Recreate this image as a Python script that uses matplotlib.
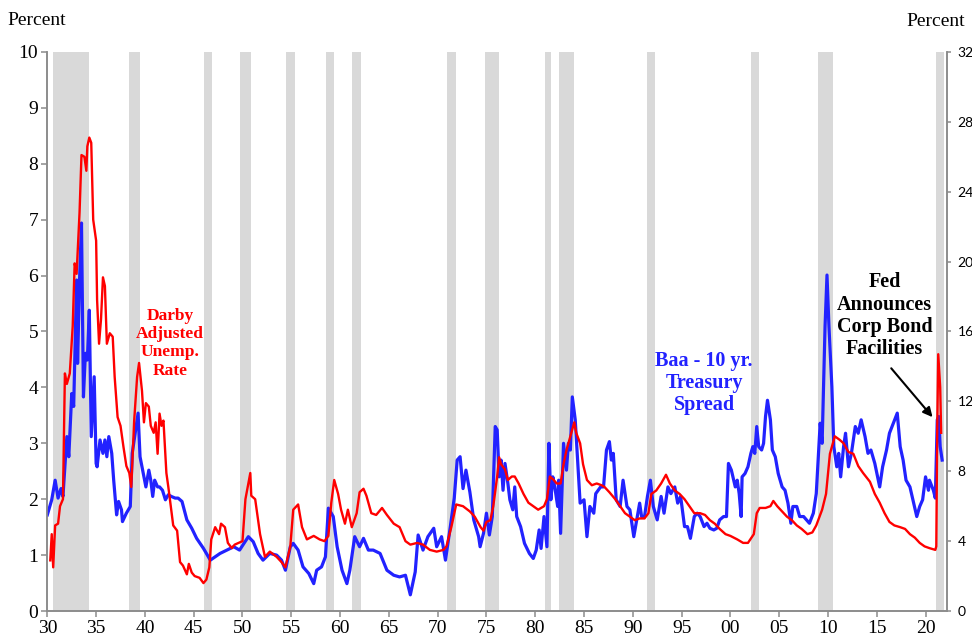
import matplotlib
matplotlib.use("Agg")
import matplotlib.pyplot as plt

# recession bands, in the chart's own year scale
recession_start = [1930.55, 1938.34, 1946.06, 1949.78, 1954.47, 1958.60, 1961.23, 1970.97,
                   1974.87, 1981.03, 1982.48, 1991.50, 2002.16, 2008.93, 2021.12]
recession_end = [1934.24, 1939.50, 1946.88, 1950.85, 1955.39, 1959.36, 1962.16, 1971.89,
                 1976.27, 1981.65, 1983.99, 1992.26, 2002.95, 2010.54, 2021.84]

# Baa - 10 yr Treasury spread (left axis, percent)
spread_years = [
    1930.0, 1930.45, 1930.8, 1931.1, 1931.4, 1931.6, 1932.0, 1932.2, 1932.5, 1932.7,
    1933.0, 1933.1, 1933.3, 1933.5, 1933.7, 1933.9, 1934.1, 1934.3, 1934.5, 1934.8,
    1935.0, 1935.1, 1935.4, 1935.7, 1935.9, 1936.1, 1936.3, 1936.6, 1936.8, 1937.1,
    1937.3, 1937.6, 1937.7, 1938.1, 1938.5, 1938.7, 1939.0, 1939.3, 1939.5, 1939.7,
    1939.9, 1940.1, 1940.4, 1940.6, 1940.8, 1941.0, 1941.3, 1941.5, 1941.8, 1942.1,
    1942.4, 1942.7, 1943.1, 1943.4, 1943.8, 1944.3, 1944.8, 1945.3, 1946.0,
    1946.7, 1947.7, 1949.1, 1949.7, 1950.6, 1951.1, 1951.6, 1952.1, 1952.8, 1953.5,
    1954.0, 1954.4, 1954.9, 1955.2, 1955.7, 1956.2, 1956.8, 1957.3, 1957.6, 1958.1,
    1958.5, 1958.8, 1959.3, 1959.7, 1960.2, 1960.7, 1961.0, 1961.5, 1962.0, 1962.4,
    1962.9, 1963.4, 1964.1, 1964.8, 1965.5, 1966.1, 1966.7, 1967.2, 1967.7, 1968.0,
    1968.5, 1969.0, 1969.6, 1969.9, 1970.4, 1970.8, 1971.3, 1971.7, 1972.0, 1972.3,
    1972.6, 1972.9, 1973.3, 1973.7, 1974.2,
    1974.35, 1974.7, 1975.0, 1975.3, 1975.6, 1975.9, 1976.1, 1976.3, 1976.5, 1976.7,
    1976.9, 1977.2, 1977.4, 1977.7, 1977.9, 1978.1, 1978.5, 1978.9, 1979.4, 1979.8,
    1980.1, 1980.4, 1980.6, 1980.9, 1981.2, 1981.4, 1981.6, 1981.8, 1982.0, 1982.3,
    1982.4, 1982.6, 1982.9, 1983.2, 1983.4, 1983.6, 1983.8, 1984.1, 1984.3, 1984.6,
    1985.0, 1985.3, 1985.6, 1986.0, 1986.2, 1986.7, 1987.0, 1987.3, 1987.6, 1987.8,
    1988.0, 1988.3, 1988.7, 1989.0, 1989.4, 1989.7, 1990.1, 1990.4, 1990.7, 1990.9,
    1991.2, 1991.5, 1991.8, 1992.1, 1992.5, 1992.9, 1993.2, 1993.6, 1993.9, 1994.3,
    1994.6, 1994.9, 1995.3, 1995.6, 1995.9, 1996.3, 1996.6, 1996.9, 1997.3, 1997.6,
    1997.9, 1998.3, 1998.6,
    1998.9, 1999.3, 1999.6, 1999.8, 2000.1, 2000.5, 2000.7, 2000.9, 2001.1, 2001.2,
    2001.5, 2001.8, 2002.1, 2002.3, 2002.5, 2002.7, 2002.9, 2003.2, 2003.4, 2003.6,
    2003.8, 2004.1, 2004.3, 2004.6, 2004.9, 2005.3, 2005.6, 2005.9, 2006.2, 2006.4,
    2006.8, 2007.1, 2007.5, 2007.8, 2008.1, 2008.5, 2008.8, 2009.2, 2009.4, 2009.7,
    2009.9, 2010.1, 2010.4, 2010.6, 2010.9, 2011.1, 2011.3, 2011.6, 2011.8, 2012.1,
    2012.4, 2012.8, 2013.1, 2013.4, 2013.8, 2014.1, 2014.4, 2014.8, 2015.3, 2015.6,
    2016.0, 2016.3, 2016.7, 2017.1, 2017.4, 2017.7, 2018.0, 2018.4, 2018.7, 2019.1,
    2019.4, 2019.7, 2020.0, 2020.3, 2020.4, 2020.8, 2021.0, 2021.2, 2021.35, 2021.5,
    2021.7,
]
spread_vals = [
    1.72, 1.99, 2.34, 2.02, 2.19, 2.05, 3.12, 2.76, 3.89, 3.66,
    5.92, 4.43, 5.92, 6.94, 3.83, 4.61, 4.49, 5.38, 3.12, 4.19,
    2.64, 2.58, 3.06, 2.82, 3.06, 2.76, 3.12, 2.82, 2.34, 1.72,
    1.96, 1.81, 1.60, 1.75, 1.87, 2.82, 3.18, 3.54, 2.76, 2.58,
    2.40, 2.22, 2.52, 2.34, 2.05, 2.34, 2.22, 2.22, 2.16, 1.99,
    2.08, 2.05, 2.02, 2.02, 1.96, 1.63, 1.48, 1.30, 1.12,
    0.91, 1.03, 1.15, 1.09, 1.33, 1.24, 1.03, 0.91, 1.03, 1.00,
    0.91, 0.73, 1.15, 1.21, 1.09, 0.79, 0.67, 0.49, 0.73, 0.79,
    0.97, 1.84, 1.69, 1.15, 0.73, 0.49, 0.73, 1.33, 1.15, 1.30,
    1.09, 1.09, 1.03, 0.73, 0.64, 0.61, 0.64, 0.29, 0.70, 1.36,
    1.09, 1.33, 1.48, 1.15, 1.33, 0.91, 1.51, 2.02, 2.70, 2.76,
    2.19, 2.52, 2.13, 1.63, 1.33,
    1.15, 1.39, 1.75, 1.36, 1.69, 3.30, 3.24, 2.40, 2.70, 2.16,
    2.64, 2.28, 1.99, 1.81, 2.22, 1.69, 1.51, 1.21, 1.03, 0.94,
    1.09, 1.45, 1.12, 1.69, 1.15, 3.00, 1.99, 2.40, 2.22, 1.87,
    2.34, 1.39, 3.00, 2.52, 3.00, 2.88, 3.83, 3.42, 2.82, 1.93,
    1.99, 1.33, 1.87, 1.75, 2.10, 2.22, 2.22, 2.88, 3.03, 2.70,
    2.82, 1.99, 1.87, 2.34, 1.87, 1.81, 1.33, 1.63, 1.93, 1.69,
    1.69, 2.05, 2.34, 1.87, 1.63, 2.05, 1.75, 2.22, 2.10, 2.22,
    1.93, 2.05, 1.51, 1.51, 1.30, 1.69, 1.75, 1.69, 1.51, 1.57,
    1.48, 1.45, 1.48,
    1.63, 1.69, 1.69, 2.64, 2.52, 2.22, 2.34, 2.10, 1.69, 2.40,
    2.46, 2.58, 2.82, 2.94, 2.82, 3.30, 2.94, 2.88, 3.00, 3.48,
    3.77, 3.42, 2.88, 2.76, 2.46, 2.22, 2.16, 1.93, 1.57, 1.87,
    1.87, 1.69, 1.69, 1.63, 1.57, 1.75, 2.10, 3.36, 3.00, 5.09,
    6.01, 5.09, 4.01, 2.94, 2.58, 2.82, 2.40, 2.94, 3.18, 2.58,
    2.82, 3.30, 3.18, 3.42, 3.12, 2.82, 2.88, 2.64, 2.22, 2.58,
    2.88, 3.18, 3.36, 3.54, 2.94, 2.70, 2.34, 2.22, 1.99, 1.69,
    1.87, 1.99, 2.40, 2.16, 2.34, 2.16, 2.02, 3.42, 3.48, 2.94,
    2.70,
]

# Darby adjusted unemployment rate (right axis, percent)
unemp_years = [
    1930.3, 1930.45, 1930.6, 1930.8, 1931.1, 1931.3, 1931.6, 1931.8, 1932.0, 1932.3,
    1932.6, 1932.8, 1933.0, 1933.3, 1933.5, 1933.8, 1934.0, 1934.1, 1934.3, 1934.5,
    1934.7, 1935.0, 1935.1, 1935.3, 1935.5, 1935.7, 1935.9, 1936.1, 1936.4, 1936.7,
    1936.9, 1937.2, 1937.5, 1937.8, 1938.1, 1938.4, 1938.6, 1938.9, 1939.2, 1939.4,
    1939.7, 1939.9, 1940.1, 1940.4, 1940.6, 1940.9, 1941.1, 1941.3, 1941.5, 1941.7,
    1941.9, 1942.2, 1942.4, 1942.9, 1943.3, 1943.6, 1943.9, 1944.3, 1944.5, 1944.8,
    1945.1, 1945.6, 1946.0, 1946.3, 1946.6, 1946.8, 1947.2, 1947.4, 1947.6, 1947.8,
    1948.2, 1948.5, 1948.9, 1949.2, 1949.6,
    1950.0, 1950.3, 1950.8, 1950.9, 1951.3, 1951.8, 1952.3, 1952.8, 1953.5, 1954.0,
    1954.4, 1954.9, 1955.2, 1955.7, 1956.1, 1956.6, 1957.3, 1957.9, 1958.4, 1958.8,
    1959.1, 1959.4, 1959.8, 1960.1, 1960.5, 1960.8, 1961.2, 1961.7, 1962.0, 1962.4,
    1962.7, 1963.2, 1963.7, 1964.3, 1964.8, 1965.5, 1966.1, 1966.7, 1967.2, 1967.9,
    1968.5, 1969.2, 1969.9, 1970.6, 1970.9, 1971.4, 1971.9, 1972.6, 1973.3, 1973.8,
    1974.4, 1974.7,
    1975.0, 1975.4, 1975.7, 1976.1, 1976.3, 1976.5, 1976.9, 1977.2, 1977.6, 1977.9,
    1978.3, 1978.8, 1979.3, 1979.8, 1980.3, 1980.9, 1981.2, 1981.5, 1981.9, 1982.2,
    1982.6, 1982.9, 1983.2, 1983.7, 1984.0, 1984.2, 1984.6, 1984.9, 1985.3, 1985.8,
    1986.3, 1986.8, 1987.1, 1987.6, 1988.2, 1988.7, 1989.2, 1989.7, 1990.2, 1990.7,
    1991.2, 1991.6, 1991.9, 1992.4, 1992.9, 1993.4, 1993.8, 1994.3, 1994.8, 1995.3,
    1995.8, 1996.3, 1996.9, 1997.4, 1997.9, 1998.4, 1998.9,
    1999.5, 2000.0, 2000.7, 2001.3, 2001.8, 2002.4, 2002.7, 2003.0, 2003.6, 2004.1,
    2004.4, 2004.8, 2005.3, 2005.8, 2006.3, 2006.8, 2007.3, 2007.9, 2008.4, 2008.8,
    2009.4, 2009.8, 2010.2, 2010.7, 2011.2, 2011.6, 2012.1, 2012.6, 2013.1, 2013.6,
    2014.3, 2014.8, 2015.3, 2015.8, 2016.3, 2016.8, 2017.4, 2017.9, 2018.4, 2018.9,
    2019.4, 2019.9, 2020.4, 2021.0, 2021.1, 2021.2, 2021.3, 2021.5, 2021.6,
]
unemp_vals = [
    2.9, 4.4, 2.5, 4.9, 5.0, 6.0, 6.4, 13.6, 13.0, 13.6,
    16.3, 19.9, 19.3, 22.8, 26.1, 26.0, 25.2, 26.6, 27.1, 26.8,
    22.4, 21.2, 17.8, 15.3, 16.7, 19.1, 18.6, 15.3, 15.9, 15.7,
    13.4, 11.1, 10.6, 9.4, 8.3, 7.9, 7.1, 10.9, 13.4, 14.2,
    12.6, 10.8, 11.9, 11.7, 10.6, 10.2, 10.8, 9.0, 11.3, 10.6,
    10.9, 7.9, 7.1, 4.9, 4.6, 2.8, 2.6, 2.1, 2.7, 2.2,
    2.0, 1.9, 1.6, 1.8, 2.5, 4.1, 4.8, 4.6, 4.4, 5.0,
    4.8, 3.9, 3.6, 3.8, 3.9,
    4.0, 6.4, 7.9, 6.6, 6.4, 4.4, 3.1, 3.4, 3.1, 2.8,
    2.5, 3.7, 5.8, 6.1, 4.8, 4.1, 4.3, 4.1, 4.0, 4.3,
    6.2, 7.5, 6.7, 5.8, 5.0, 5.8, 4.8, 5.6, 6.8, 7.0,
    6.6, 5.6, 5.5, 5.9, 5.5, 5.0, 4.8, 4.0, 3.8, 3.9,
    3.8, 3.5, 3.4, 3.5, 3.7, 4.8, 6.1, 6.0, 5.7, 5.4,
    4.8, 4.6,
    5.1, 5.2, 6.0, 7.7, 8.8, 8.4, 8.1, 7.5, 7.7, 7.7,
    7.3, 6.7, 6.2, 6.0, 5.8, 6.0, 6.4, 7.7, 7.5, 7.3,
    7.3, 8.4, 9.2, 10.2, 10.8, 10.2, 9.6, 8.4, 7.5, 7.2,
    7.3, 7.2, 7.1, 6.8, 6.4, 6.0, 5.6, 5.4, 5.2, 5.3,
    5.3, 5.6, 6.7, 6.9, 7.3, 7.8, 7.3, 6.9, 6.7, 6.4,
    6.0, 5.6, 5.6, 5.5, 5.2, 5.0, 4.7,
    4.4, 4.3, 4.1, 3.9, 3.9, 4.4, 5.6, 5.9, 5.9, 6.0,
    6.3, 6.0, 5.7, 5.4, 5.2, 4.9, 4.7, 4.4, 4.5, 4.9,
    5.8, 6.7, 9.0, 10.0, 9.8, 9.6, 9.1, 9.0, 8.3, 7.9,
    7.4, 6.7, 6.2, 5.6, 5.1, 4.9, 4.8, 4.7, 4.4, 4.2,
    3.9, 3.7, 3.6, 3.5, 3.7, 10.6, 14.7, 12.8, 10.2,
]

left_ticks = list(range(0, 11))
right_ticks = list(range(0, 33, 4))
xtick_years = list(range(1930, 2021, 5))
xtick_labels = ["%02d" % (y % 100) for y in xtick_years]

serif = "Liberation Serif"
sans = ["Lato", "Liberation Sans"]
axis_grey = "#8c8c8c"

fig = plt.figure(figsize=(9.72, 6.44), dpi=100)
ax = fig.add_axes([0.0487, 0.0512, 0.9251, 0.8681])
ax2 = ax.twinx()

for s, e in zip(recession_start, recession_end):
    ax.axvspan(s, e, color="#d9d9d9", lw=0, zorder=0)

ax.plot(spread_years, spread_vals, color="#2222ff", lw=2.3, zorder=3)
ax2.plot(unemp_years, unemp_vals, color="#ff0000", lw=1.7, zorder=3)

ax.set_xlim(1930, 2022.15)
ax.set_ylim(0, 10)
ax2.set_ylim(0, 32)

ax.set_xticks(xtick_years)
ax.set_xticklabels(xtick_labels, fontfamily=serif, fontsize=14)
ax.set_yticks(left_ticks)
ax.set_yticklabels([str(t) for t in left_ticks], fontfamily=serif, fontsize=14)
ax2.set_yticks(right_ticks)
ax2.set_yticklabels([str(t) for t in right_ticks], fontfamily=sans, fontsize=10)

for a in (ax, ax2):
    a.spines["top"].set_visible(False)
    for side in ("left", "right", "bottom"):
        a.spines[side].set_color(axis_grey)
        a.spines[side].set_linewidth(1.2)
ax.tick_params(axis="both", direction="out", length=4.5, width=1.1, color=axis_grey, pad=2)
ax2.tick_params(axis="y", direction="out", length=3, width=1.1, color=axis_grey, pad=5)

fig.text(0.008, 0.968, "Percent", fontfamily=serif, fontsize=14, ha="left", va="center")
fig.text(0.993, 0.966, "Percent", fontfamily=serif, fontsize=14, ha="right", va="center")

ax.text(1942.6, 4.79, "Darby\nAdjusted\nUnemp.\nRate", color="#ff0000", fontfamily=serif,
        fontweight="bold", fontsize=12.5, ha="center", va="center", linespacing=1.2)
ax.text(1997.3, 4.08, "Baa - 10 yr.\nTreasury\nSpread", color="#2222ff", fontfamily=serif,
        fontweight="bold", fontsize=14.5, ha="center", va="center", linespacing=1.15)
ax.text(2015.8, 5.28, "Fed\nAnnounces\nCorp Bond\nFacilities", color="black", fontfamily=serif,
        fontweight="bold", fontsize=14.5, ha="center", va="center", linespacing=1.15)
ax.annotate("", xy=(2020.9, 3.43), xytext=(2016.3, 4.38),
            arrowprops=dict(arrowstyle="-|>", color="black", lw=1.5, mutation_scale=14))

fig.savefig("out.png", dpi=100)
